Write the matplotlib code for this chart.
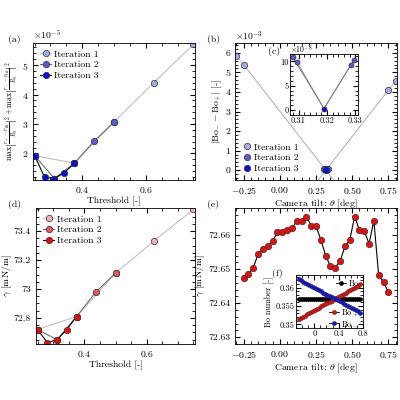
import matplotlib
matplotlib.use("Agg")
import matplotlib.pyplot as plt
import numpy as np

plt.rcParams.update({'font.family':'serif','font.serif':['cmr10','DejaVu Serif'],
    'mathtext.fontset':'cm','axes.formatter.use_mathtext':True,'font.size':7,
    'xtick.direction':'in','ytick.direction':'in','xtick.top':True,'ytick.right':True,
    'xtick.minor.visible':True,'ytick.minor.visible':True,'axes.linewidth':0.6})

thr1=[0.25,0.375,0.5,0.625,0.75]; thr2=[0.25,0.3125,0.375,0.4375,0.5]; thr3=[0.25,0.28125,0.3125,0.34375,0.375]
err1=[1.93,1.67,3.07,4.40,5.70]; err2=[1.93,1.15,1.67,2.42,3.07]; err3=[1.93,1.20,1.15,1.35,1.67]
gam1=[72.72,72.81,73.11,73.335,73.55]; gam2=[72.72,72.65,72.81,72.98,73.11]; gam3=[72.72,72.63,72.65,72.72,72.81]

tilt_b1=[-0.30,-0.25,0.318,0.75,0.80]; dbo_b1=[5.85,5.40,0.05,4.10,4.55]
tilt_b2=[0.308,0.31,0.328,0.33]; dbo_b2=[0.05,0.04,0.04,0.05]
tilt_b3=[0.319]; dbo_b3=[0.0]
tilt_c2=[0.308,0.3095,0.3285,0.3295]; dbo_c2=[10.8,9.8,9.2,10.3]
tilt_c3=[0.319]; dbo_c3=[0.3]

tilt_e=[-0.25,-0.217,-0.183,-0.15,-0.117,-0.083,-0.05,-0.017,0.017,0.05,0.083,0.117,0.15,0.183,0.217,0.25,
        0.283,0.317,0.35,0.383,0.417,0.45,0.483,0.517,0.55,0.583,0.617,0.65,0.683,0.717,0.75]
gam_e=[72.6473,72.6485,72.6505,72.6545,72.6558,72.6567,72.6583,72.6608,72.6610,72.6615,72.6620,72.6642,
       72.6642,72.6655,72.6628,72.6627,72.6587,72.6540,72.6508,72.6505,72.6524,72.6567,72.6585,72.6655,
       72.6615,72.6613,72.6575,72.6643,72.6483,72.6462,72.6432]
bo_f=[0.357]*31
bop_f=[0.3515,0.3518,0.3521,0.3524,0.3527,0.3530,0.3533,0.3536,0.3540,0.3543,0.3546,0.3549,0.3552,0.3555,
       0.3558,0.3562,0.3565,0.3568,0.3571,0.3574,0.3577,0.3580,0.3584,0.3587,0.3590,0.3593,0.3596,0.3599,
       0.3602,0.3606,0.3610]
bom_f=[0.3623,0.3620,0.3617,0.3614,0.3611,0.3608,0.3605,0.3602,0.3599,0.3596,0.3593,0.3590,0.3587,0.3584,
       0.3581,0.3578,0.3575,0.3572,0.3569,0.3566,0.3563,0.3560,0.3557,0.3554,0.3551,0.3548,0.3545,0.3542,
       0.3539,0.3536,0.3530]

fig=plt.figure(figsize=(4,4),dpi=100)
def ax_px(l,t,r,b): return fig.add_axes([l/400,1-b/400,(r-l)/400,(b-t)/400])
blues=['#a4ace8','#5a5ad8','#0a0ae6']; reds=['#f4acac','#e65858','#ee0a0a']; lcs=['#c0c0c0','#707070','#000000']
ms=dict(ms=4.6,mec='#333333',mew=0.5)

a=ax_px(33,43,195,180)
for i,(x,y) in enumerate([(thr1,err1),(thr2,err2),(thr3,err3)]):
    a.plot(x,np.array(y)*1e-5,'-o',color=lcs[i],mfc=blues[i],lw=0.8,label=f'Iteration {i+1}',**ms)
a.set_xlim(0.245,0.755); a.set_ylim(1.1e-5,5.75e-5)
a.set_xlabel('Threshold [-]',labelpad=1)
a.set_ylabel(r'$\max\left|\frac{r_+-r_{\rm fit}}{R_0}\right|^2+\max\left|\frac{r_--r_{\rm fit}}{R_0}\right|^2$',fontsize=5.6,labelpad=1)
a.legend(loc='upper left',frameon=False,handlelength=1.2,borderaxespad=0.3,labelspacing=0.2,handletextpad=0.3)
fig.text(8/400,1-42/400,'(a)')

b=ax_px(235,43,397,180)
for x,y in zip(tilt_b1,dbo_b1):
    if abs(x-0.318)>0.05:
        xe=0.318+(0.318-x)*0.12
        b.plot([x,xe],[y,-y*0.12],color='#bbbbbb',lw=0.6)
b.plot(tilt_b1,dbo_b1,'o',mfc=blues[0],label='Iteration 1',**ms)
b.plot(tilt_b2,dbo_b2,'o',mfc=blues[1],label='Iteration 2',**ms)
b.plot(tilt_b3,dbo_b3,'o',mfc=blues[2],label='Iteration 3',**ms)
b.set_xlim(-0.31,0.81); b.set_ylim(-0.5,6.5)
b.set_yticks([0,1,2,3,4,5,6]); b.set_yticklabels(['0','1','2','3','4','5','6'])
b.text(0,1.02,r'$\times10^{-3}$',transform=b.transAxes,fontsize=7)
b.set_xlabel(r'Camera tilt: $\theta$ [deg]',labelpad=1)
b.set_ylabel(r'$|{\rm Bo}_{-}-{\rm Bo}_{+}|$ [-]',labelpad=1)
b.legend(loc='lower left',frameon=False,handlelength=1.0,borderaxespad=0.3,labelspacing=0.2,handletextpad=0.3)
fig.text(207/400,1-42/400,'(b)')

c=ax_px(290,54,358,115)
for x,y in zip(tilt_c2,dbo_c2):
    c.plot([x,0.319],[y,0.3],color='#777777',lw=0.6)
c.plot(tilt_c2,dbo_c2,'o',mfc=blues[1],ms=3.6,mec='#333333',mew=0.5)
c.plot(tilt_c3,dbo_c3,'o',mfc=blues[2],ms=3.6,mec='#333333',mew=0.5)
c.set_xlim(0.307,0.331); c.set_ylim(-1,11.5)
c.set_xticks([0.31,0.32,0.33]); c.set_xticklabels(['0.31','0.32','0.33'])
c.set_yticks([0,5,10]); c.set_yticklabels(['0','5','10'])
c.tick_params(labelsize=6,pad=1)
c.text(0,1.02,r'$\times10^{-8}$',transform=c.transAxes,fontsize=5.5)
fig.text(268/400,1-54/400,'(c)')

d=ax_px(36,208,195,344)
for i,(x,y) in enumerate([(thr1,gam1),(thr2,gam2),(thr3,gam3)]):
    d.plot(x,y,'-o',color=lcs[i],mfc=reds[i],lw=0.8,label=f'Iteration {i+1}',**ms)
d.set_xlim(0.245,0.755); d.set_ylim(72.62,73.56)
d.set_yticks([72.8,73,73.2,73.4]); d.set_yticklabels(['72.8','73','73.2','73.4'])
d.set_xlabel('Threshold [-]',labelpad=1); d.set_ylabel(r'$\gamma$ [mN/m]',labelpad=0)
d.legend(loc='upper left',frameon=False,handlelength=1.2,borderaxespad=0.3,labelspacing=0.2,handletextpad=0.3)
fig.text(8/400,1-207/400,'(d)')

e=ax_px(235,208,397,344)
e.plot(tilt_e,gam_e,'-o',color='k',mfc=reds[2],lw=0.8,**ms)
e.set_xlim(-0.31,0.81); e.set_ylim(72.628,72.668)
e.set_yticks([72.63,72.64,72.65,72.66]); e.set_yticklabels(['72.63','72.64','72.65','72.66'])
e.set_xlabel(r'Camera tilt: $\theta$ [deg]',labelpad=1); e.set_ylabel(r'$\gamma$ [mN/m]',labelpad=1)
fig.text(207/400,1-207/400,'(e)')

f=ax_px(296,275,363,328)
f.plot(tilt_e,bo_f,'-o',color='k',mfc='k',ms=3,mec='k',mew=0.3,lw=0.6,label='Bo')
f.plot(tilt_e,bop_f,'-o',color='k',mfc=reds[2],ms=3,mec='#333333',mew=0.3,lw=0.6,label=r'Bo$_+$')
f.plot(tilt_e,bom_f,'-o',color='k',mfc='#1010e0',ms=3,mec='#333333',mew=0.3,lw=0.6,label=r'Bo$_-$')
f.set_xlim(-0.3,0.8); f.set_ylim(0.349,0.3635)
f.set_xticks([0,0.4,0.8]); f.set_xticklabels(['0','0.4','0.8'])
f.set_yticks([0.35,0.355,0.36]); f.set_yticklabels(['0.35','0.355','0.36'])
f.tick_params(labelsize=6,pad=1)
f.set_ylabel('Bo number [-]',fontsize=6,labelpad=1)
h,l=f.get_legend_handles_labels()
f.add_artist(f.legend([h[0]],[l[0]],loc='upper right',frameon=False,fontsize=6,handlelength=1.2,borderaxespad=0.1,handletextpad=0.3))
f.legend(h[1:],l[1:],loc='lower right',bbox_to_anchor=(1.0,-0.08),frameon=False,fontsize=6,handlelength=1.2,borderaxespad=0.1,labelspacing=0.1,handletextpad=0.3)
fig.text(272/400,1-276/400,'(f)')

fig.savefig('out.png',dpi=100)
